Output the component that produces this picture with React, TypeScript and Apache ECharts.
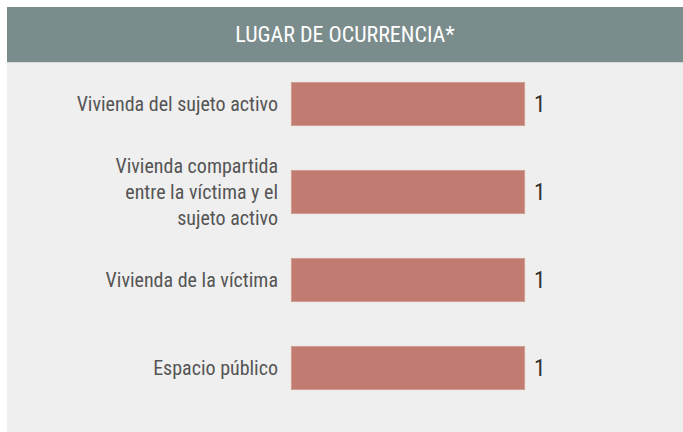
import React, { useEffect, useRef } from "react";
import * as echarts from "echarts";

const categories = [
  "Vivienda del sujeto activo",
  "Vivienda compartida\nentre la víctima y el\nsujeto activo",
  "Vivienda de la víctima",
  "Espacio público",
];
const values = [1, 1, 1, 1];
const titleText = "LUGAR DE OCURRENCIA*";

const FONT = "'Liberation Sans Narrow', 'Roboto Condensed', 'Liberation Sans', sans-serif";

export default function App() {
  const ref = useRef<HTMLDivElement>(null);
  useEffect(() => {
    if (!ref.current) return;
    const chart = echarts.init(ref.current, null, { renderer: "svg" });
    chart.setOption({
      animation: false,
      backgroundColor: "#ffffff",
      graphic: [
        { type: "rect", left: 7, top: 62, shape: { width: 676, height: 370 }, style: { fill: "#efefef" }, z: -10 },
        { type: "rect", left: 7, top: 7, shape: { width: 676, height: 55 }, style: { fill: "#7b8c8c" }, z: -5 },
        { type: "rect", left: 7, top: 62, shape: { width: 676, height: 1 }, style: { fill: "#d4d8d8" }, z: -5 },
        {
          type: "text",
          x: 345,
          y: 34,
          style: {
            text: titleText,
            fill: "#ffffff",
            font: `22px ${FONT}`,
            align: "center",
            verticalAlign: "middle",
          },
          z: 10,
        },
      ],
      grid: { left: 291, right: 158, top: 60, bottom: 20, containLabel: false },
      xAxis: {
        type: "value",
        min: 0,
        max: 1,
        show: false,
      },
      yAxis: {
        type: "category",
        data: categories,
        inverse: true,
        axisLine: { show: false },
        axisTick: { show: false },
        axisLabel: {
          margin: 13,
          color: "#555555",
          fontFamily: FONT,
          fontSize: 20,
          lineHeight: 26,
          align: "right",
        },
      },
      series: [
        {
          type: "bar",
          data: values,
          barWidth: 44,
          itemStyle: { color: "#c27b70", borderColor: "#d9a8a0", borderWidth: 0.5 },
          label: {
            show: true,
            position: "right",
            distance: 9,
            color: "#333333",
            fontFamily: FONT,
            fontSize: 23,
          },
        },
      ],
    });
    return () => chart.dispose();
  }, []);
  return (
    <div
      ref={ref}
      style={{ position: "fixed", left: 0, top: 0, width: 683, height: 432 }}
    />
  );
}
